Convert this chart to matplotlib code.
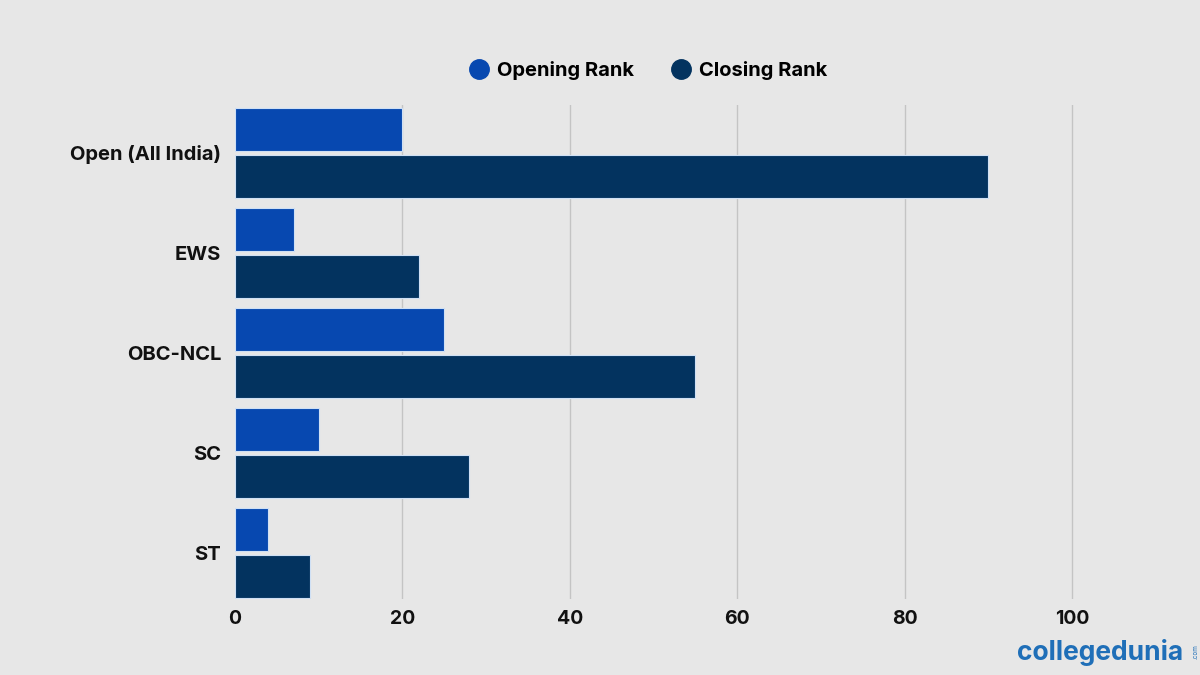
import matplotlib
matplotlib.use("Agg")
import matplotlib.pyplot as plt
from matplotlib.lines import Line2D

categories = ["Open (All India)", "EWS", "OBC-NCL", "SC", "ST"]
opening_rank = [20, 7, 25, 10, 4]
closing_rank = [90, 22, 55, 28, 9]
x_ticks = [0, 20, 40, 60, 80, 100]
series_names = ["Opening Rank", "Closing Rank"]

bg = "#e7e7e7"
c_open = "#0748b0"
c_close = "#03335f"

plt.rcParams['font.family'] = ['Inter', 'DejaVu Sans']

fig = plt.figure(figsize=(12, 6.75), dpi=100, facecolor=bg)
ax = fig.add_axes([235/1200, 1-599/675, (1114-235)/1200, (599-105)/675])
ax.set_facecolor(bg)

y = list(range(len(categories)))
h = 0.43
off = 0.235
ax.barh([v - off for v in y], opening_rank, height=h, color=c_open,
        edgecolor="#cfe0f5", linewidth=0.8, zorder=3)
ax.barh([v + off for v in y], closing_rank, height=h, color=c_close,
        edgecolor="#cfe0f5", linewidth=0.8, zorder=3)

ax.set_xlim(0, 105)
ax.set_ylim(4.46, -0.48)
ax.set_xticks(x_ticks)
ax.set_xticklabels([str(t) for t in x_ticks], fontsize=14, fontweight='bold', color='#111111')
ax.set_yticks(y)
ax.set_yticklabels(categories, fontsize=14.5, fontweight='bold', color='#111111')
ax.tick_params(axis='both', length=0)
ax.tick_params(axis='x', pad=8)
ax.tick_params(axis='y', pad=10)
for s in ax.spines.values():
    s.set_visible(False)
for t in x_ticks[1:]:
    ax.axvline(t, color="#c4c4c4", linewidth=1.0, zorder=1)

# legend
handles = [Line2D([0], [0], marker='o', linestyle='none', markersize=14,
                  markerfacecolor=c, markeredgecolor=c) for c in (c_open, c_close)]
leg = fig.legend(handles, series_names, loc='center', bbox_to_anchor=(648/1200, 1-71/675),
                 ncol=2, frameon=False, prop={'size': 14.5, 'weight': 'bold'},
                 handletextpad=0.4, columnspacing=1.8, handlelength=1.0)

# watermark
fig.text(1017/1200, 1-652/675, "collegedunia", fontsize=19, color="#1f6fb8",
         fontweight='bold', va='center', ha='left')
fig.text(1196/1200, 1-652/675, ".com", fontsize=4.5, color="#1f6fb8",
         va='center', ha='center', rotation=90)

fig.savefig("out.png", dpi=100, facecolor=bg)
